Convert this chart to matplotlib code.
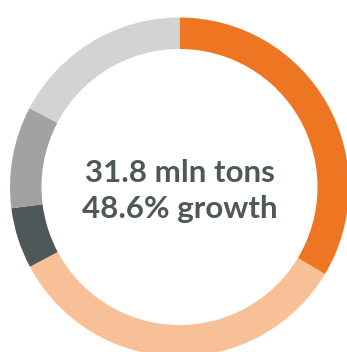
import matplotlib
matplotlib.use('Agg')
import matplotlib.pyplot as plt

# shares of the ring, clockwise from 12 o'clock
labels = ['A', 'B', 'C', 'D', 'E']
shares = [33.6, 33.6, 5.8, 9.7, 17.3]
colors = ['#EE7623', '#F8C097', '#4F5858', '#A1A3A2', '#D2D4D3']
center_lines = ['31.8 mln tons', '48.6% growth']

W, H = 347, 352
fig = plt.figure(figsize=(W / 100, H / 100), dpi=100)
ax = fig.add_axes([0, 0, 1, 1])

ax.pie(shares, colors=colors, startangle=90, counterclock=False,
       radius=169.5, center=(179.5, H - 187),
       wedgeprops=dict(width=31.5, linewidth=0))

ax.set_xlim(0, W)
ax.set_ylim(0, H)
ax.axis('off')

ax.text(179.5, H - 173, center_lines[0], ha='center', va='center',
        fontsize=22.5, fontweight='bold', family='Lato', color='#4F5858')
ax.text(179.5, H - 209, center_lines[1], ha='center', va='center',
        fontsize=22.5, fontweight='bold', family='Lato', color='#4F5858')

fig.savefig('out.png', dpi=100)
